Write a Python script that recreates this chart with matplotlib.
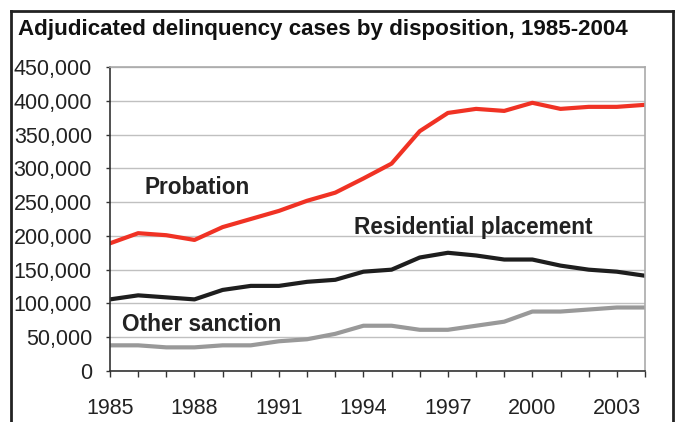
import matplotlib
matplotlib.use("Agg")
import matplotlib.pyplot as plt
from matplotlib.lines import Line2D

years = list(range(1985, 2005))
probation = [189000, 204000, 201000, 194000, 213000, 225000, 237000, 252000, 264000, 285000,
             307000, 355000, 382000, 388000, 385000, 397000, 388000, 391000, 391000, 394000]
residential = [106000, 112000, 109000, 106000, 120000, 126000, 126000, 132000, 135000, 147000,
               150000, 168000, 175000, 171000, 165000, 165000, 156000, 150000, 147000, 141000]
other = [38000, 38000, 35000, 35000, 38000, 38000, 44000, 47000, 55000, 67000,
         67000, 61000, 61000, 67000, 73000, 88000, 88000, 91000, 94000, 94000]
yticks = list(range(0, 450001, 50000))
xtick_labels = [1985, 1988, 1991, 1994, 1997, 2000, 2003]

plt.rcParams['font.family'] = ['Liberation Sans', 'DejaVu Sans']

W, H = 680, 422
fig = plt.figure(figsize=(W / 100, H / 100), dpi=100)
ax = fig.add_axes([110 / W, 1 - 371 / H, 535 / W, (371 - 67) / H])

ax.plot(years, probation, color='#f03224', lw=3, solid_joinstyle='round')
ax.plot(years, residential, color='#1e1e1e', lw=3, solid_joinstyle='round')
ax.plot(years, other, color='#999999', lw=3, solid_joinstyle='round')

ax.set_xlim(1985, 2004)
ax.set_ylim(0, 450000)
ax.set_yticks(yticks)
ax.set_yticklabels([f"{v:,}" for v in yticks])
ax.set_xticks(years)
ax.set_xticklabels([str(y) if y in xtick_labels else '' for y in years])
ax.grid(axis='y', color='#c0c0c0', lw=1)
ax.set_axisbelow(True)
for s in ['top', 'right']:
    ax.spines[s].set_color('#aaaaaa')
    ax.spines[s].set_linewidth(1.2)
for s in ['left', 'bottom']:
    ax.spines[s].set_color('#333333')
    ax.spines[s].set_linewidth(1.2)
ax.tick_params(axis='both', direction='out', width=1, color='#333333', labelcolor='#222222')
ax.tick_params(axis='x', length=4.5, pad=15, labelsize=15.5)
ax.tick_params(axis='y', length=3, pad=10, labelsize=15.5)

lab = dict(fontsize=16.3, fontweight='bold', color='#222222', ha='left', va='center')
ax.text(1986.24, 272000, 'Probation', **lab)
ax.text(1993.66, 213000, 'Residential placement', **lab)
ax.text(1985.43, 69500, 'Other sanction', **lab)

fig.text(18 / W, 1 - 30 / H, 'Adjudicated delinquency cases by disposition, 1985-2004',
         fontsize=16.1, fontweight='bold', color='#111111', ha='left', va='center')

# outer frame
lx, rx, ty = 11 / W, 673 / W, 1 - 11 / H
fig.add_artist(Line2D([lx, lx], [0, ty], transform=fig.transFigure, color='#222222', lw=2))
fig.add_artist(Line2D([rx, rx], [0, ty], transform=fig.transFigure, color='#222222', lw=2))
fig.add_artist(Line2D([lx, rx], [ty, ty], transform=fig.transFigure, color='#222222', lw=2))

fig.savefig('out.png', dpi=100)
